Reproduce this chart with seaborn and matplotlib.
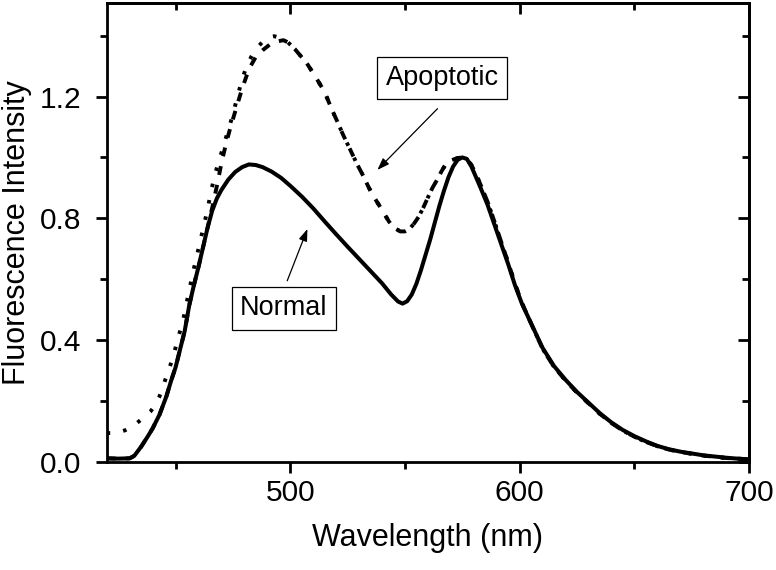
import matplotlib
matplotlib.use("Agg")
import matplotlib.pyplot as plt
import seaborn as sns
import pandas as pd
from matplotlib.ticker import MultipleLocator

# ---------------- data ----------------
wl_normal = [420, 425, 430, 432, 435, 438, 440, 443, 446, 448,
             450, 452, 454, 456, 458, 460, 462, 464, 466, 468,
             470, 473, 476, 479, 482, 485, 488, 492, 496, 500,
             505, 510, 515, 520, 525, 530, 535, 540, 544, 547,
             549, 551, 553, 555, 557, 559, 561, 563, 565, 567,
             569, 571, 573, 575, 577, 579, 581, 583, 586, 589,
             592, 595, 598, 601, 605, 610, 615, 620, 625, 630,
             635, 640, 645, 650, 655, 660, 665, 670, 675, 680,
             685, 690, 695, 700]
int_normal = [0.012, 0.011, 0.012, 0.02, 0.05, 0.085, 0.11, 0.155, 0.215, 0.265,
              0.31, 0.37, 0.43, 0.515, 0.58, 0.64, 0.705, 0.77, 0.825, 0.865,
              0.893, 0.927, 0.952, 0.968, 0.977, 0.975, 0.968, 0.953, 0.933, 0.907,
              0.872, 0.833, 0.79, 0.748, 0.707, 0.667, 0.627, 0.587, 0.55, 0.527,
              0.52, 0.528, 0.55, 0.585, 0.63, 0.68, 0.73, 0.785, 0.84, 0.89,
              0.935, 0.97, 0.992, 1.0, 0.995, 0.97, 0.935, 0.9, 0.845, 0.78,
              0.715, 0.65, 0.58, 0.52, 0.455, 0.375, 0.315, 0.27, 0.23, 0.195,
              0.16, 0.13, 0.105, 0.085, 0.068, 0.053, 0.042, 0.034, 0.028, 0.022,
              0.018, 0.014, 0.011, 0.008]

# apoptotic, dashed trace
wl_apop_dash = [420, 425, 430, 432, 435, 438, 440, 443, 446, 448,
                450, 452, 454, 456, 458, 460, 462, 464, 466, 468,
                470, 472, 474, 477, 479, 482, 485, 488, 491, 494,
                497, 499, 502, 504, 507, 511, 515, 518, 521, 523,
                526, 529, 532, 534, 536, 539, 541, 543, 545, 548,
                550, 552, 554, 556, 558, 560, 562, 564, 566, 568,
                570, 573, 575, 577, 579, 581, 583, 586, 589, 592,
                595, 598, 601, 605, 610, 615, 620, 625, 630, 635,
                640, 645, 650, 655, 660, 665, 670, 675, 680, 685,
                690, 695, 700]
int_apop_dash = [0.012, 0.011, 0.012, 0.02, 0.05, 0.085, 0.11, 0.155, 0.215, 0.265,
                 0.31, 0.37, 0.43, 0.515, 0.58, 0.64, 0.705, 0.77, 0.835, 0.905,
                 0.98, 1.045, 1.10, 1.175, 1.225, 1.29, 1.33, 1.352, 1.37, 1.38,
                 1.385, 1.378, 1.356, 1.338, 1.312, 1.265, 1.215, 1.16, 1.11, 1.075,
                 1.028, 0.98, 0.937, 0.905, 0.876, 0.84, 0.815, 0.79, 0.77, 0.757,
                 0.757, 0.765, 0.783, 0.805, 0.835, 0.868, 0.9, 0.926, 0.955, 0.98,
                 0.99, 0.998, 1.0, 0.995, 0.975, 0.945, 0.91, 0.855, 0.79, 0.722,
                 0.655, 0.585, 0.522, 0.455, 0.372, 0.312, 0.268, 0.228, 0.193, 0.158,
                 0.128, 0.103, 0.083, 0.066, 0.052, 0.041, 0.033, 0.027, 0.021, 0.017,
                 0.013, 0.011, 0.009]

# apoptotic, dotted trace (rising edge; beyond 499 nm it follows the dashed trace)
wl_apop_dot = [420, 424, 428, 431, 433, 436, 439, 441, 443, 446,
               449, 451, 453, 456, 458, 460, 462, 464, 465, 467,
               469, 471, 473, 475, 477, 479, 481, 483, 485, 488,
               490, 493, 496, 499]
int_apop_dot = [0.095, 0.095, 0.104, 0.115, 0.127, 0.145, 0.165, 0.185, 0.215, 0.28,
                0.345, 0.405, 0.455, 0.565, 0.635, 0.70, 0.765, 0.83, 0.87, 0.94,
                0.99, 1.04, 1.09, 1.14, 1.20, 1.255, 1.30, 1.33, 1.355, 1.38,
                1.393, 1.398, 1.392, 1.378]

x_major = [500, 600, 700]
y_major = [0.0, 0.4, 0.8, 1.2]
x_label = "Wavelength (nm)"
y_label = "Fluorescence Intensity"
label_apop = "Apoptotic"
label_norm = "Normal"

# ---------------- build tables ----------------
df_norm = pd.DataFrame({"wl": wl_normal, "I": int_normal})
df_dash = pd.DataFrame({"wl": wl_apop_dash, "I": int_apop_dash})
tail = df_dash[df_dash["wl"] > wl_apop_dot[-1]]
df_dot = pd.concat([pd.DataFrame({"wl": wl_apop_dot, "I": int_apop_dot}), tail],
                   ignore_index=True)

# ---------------- style ----------------
sns.set_style("ticks")
plt.rcParams["font.family"] = ["Liberation Sans", "DejaVu Sans"]
plt.rcParams["axes.linewidth"] = 2.0
for key in ["text.color", "axes.labelcolor", "xtick.color", "ytick.color",
            "axes.edgecolor"]:
    plt.rcParams[key] = "black"

fig = plt.figure(figsize=(7.76, 5.70), dpi=100)
ax = fig.add_axes([0.1375, 0.1895, 0.9652 - 0.1375, 0.9942 - 0.1895])

sns.lineplot(data=df_norm, x="wl", y="I", ax=ax, color="black", linewidth=2.9)
sns.lineplot(data=df_dash, x="wl", y="I", ax=ax, color="black", linewidth=2.8)
ax.lines[-1].set_linestyle((0, (2.3, 2.6)))
sns.lineplot(data=df_dot, x="wl", y="I", ax=ax, color="black", linewidth=2.8)
ax.lines[-1].set_linestyle((0, (0.9, 3.4)))

ax.set_xlim(420, 700)
ax.set_ylim(0, 1.506)

ax.set_xticks(x_major)
ax.set_yticks(y_major)
ax.set_yticklabels([f"{v:.1f}" for v in y_major])
ax.xaxis.set_minor_locator(MultipleLocator(50))
ax.yaxis.set_minor_locator(MultipleLocator(0.2))

ax.tick_params(which="major", direction="out", length=8, width=2,
               labelsize=21.5, colors="black", labelcolor="black")
ax.tick_params(which="minor", direction="out", length=5, width=2)
ax.tick_params(axis="x", which="major", pad=4)
ax.tick_params(axis="y", which="major", pad=10)

for s in ax.spines.values():
    s.set_visible(True)
    s.set_linewidth(2.0)
    s.set_color("black")

# mirrored inward ticks on top and right
secx = ax.secondary_xaxis("top")
secx.set_xticks(x_major)
secx.xaxis.set_minor_locator(MultipleLocator(50))
secx.tick_params(which="major", direction="in", length=8, width=2, labeltop=False)
secx.tick_params(which="minor", direction="in", length=5, width=2)
secx.spines["top"].set_linewidth(2.0)
secy = ax.secondary_yaxis("right")
secy.set_yticks(y_major)
secy.yaxis.set_minor_locator(MultipleLocator(0.2))
secy.tick_params(which="major", direction="in", length=8, width=2, labelright=False)
secy.tick_params(which="minor", direction="in", length=5, width=2)
secy.spines["right"].set_linewidth(2.0)

ax.set_xlabel(x_label, fontsize=22, labelpad=12, color="black")
ax.set_ylabel(y_label, fontsize=22, labelpad=6, color="black")

# annotations
box = dict(boxstyle="square,pad=0.3", facecolor="white", edgecolor="black", linewidth=0.9)
ax.text(566.2, 1.26, label_apop, fontsize=19.5, ha="center", va="center",
        color="black", bbox=box)
ax.text(497.2, 0.504, label_norm, fontsize=19.5, ha="center", va="center",
        color="black", bbox=box)
arrow = dict(arrowstyle="-|>,head_length=0.45,head_width=0.16", color="black",
             lw=0.9, shrinkA=0, shrinkB=0, mutation_scale=16)
ax.annotate("", xy=(538, 0.959), xytext=(564.2, 1.160), arrowprops=arrow)
ax.annotate("", xy=(507.5, 0.765), xytext=(498.7, 0.595), arrowprops=arrow)

fig.savefig("out.png", dpi=100)
